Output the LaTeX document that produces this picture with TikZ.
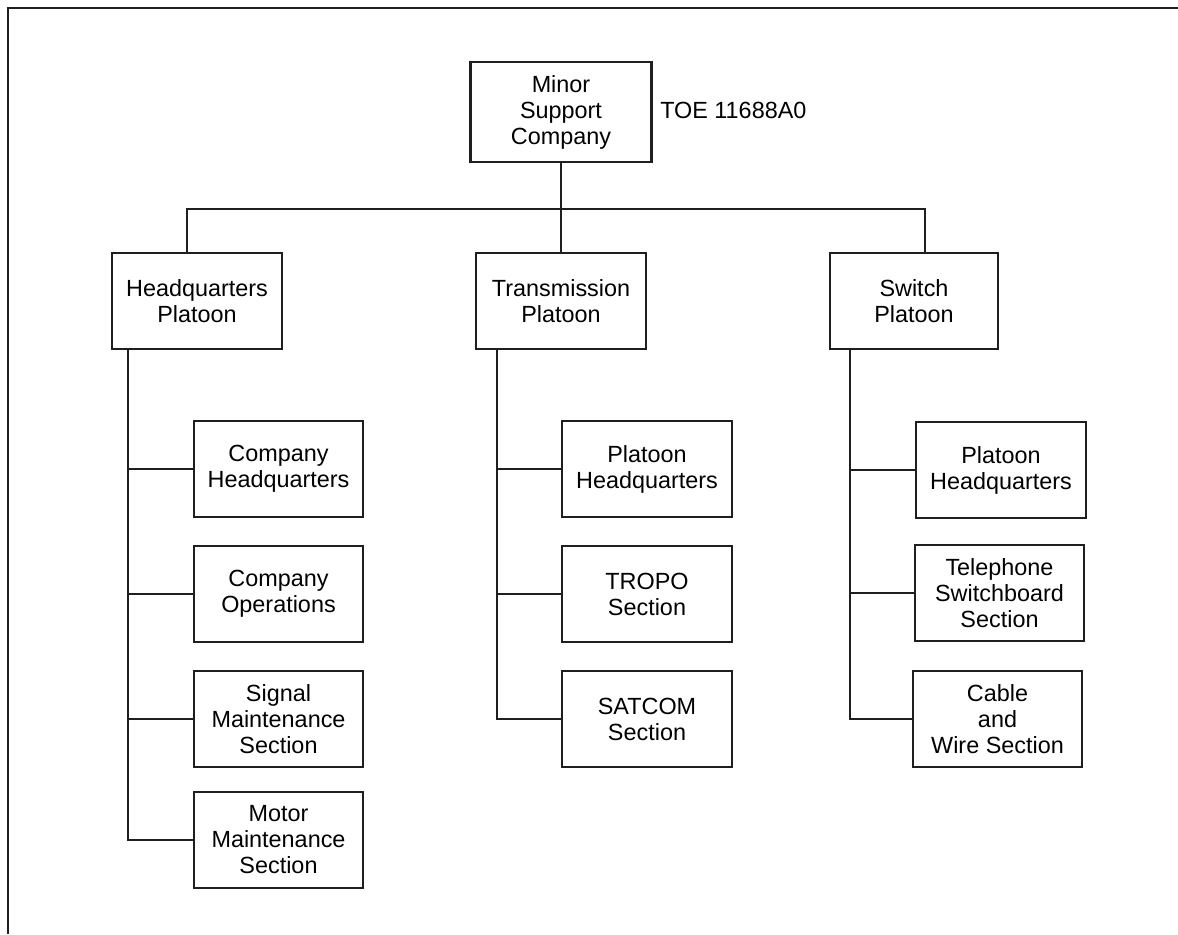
\documentclass[tikz,border=0pt]{standalone}
\usepackage{fontspec}
\setmainfont{Liberation Sans}
\usetikzlibrary{calc}
\begin{document}
\begin{tikzpicture}[x=0.5pt,y=-0.5pt,
  line width=1.25pt, draw=black!88,
  unit/.style={draw, rectangle, inner sep=0pt, align=center,
    minimum width=85pt, minimum height=48pt,
    font=\fontsize{11.7pt}{13pt}\selectfont},
  lbl/.style={inner sep=0pt, font=\fontsize{11.7pt}{13pt}\selectfont}]
\useasboundingbox (0,0) rectangle (1178,934);
% outer frame (top and left edges)
\draw (8,934) -- (8,8) -- (1178,8);

% company
\node[unit, minimum width=90.5pt, minimum height=50pt] (top) at (561,112) {Minor\\Support\\Company};
\node[lbl, anchor=west] (toe) at (659,110) {TOE 11688A0};

% platoons
\node[unit] (hq) at (197,301) {Headquarters\\Platoon};
\node[unit] (tr) at (561,301) {Transmission\\Platoon};
\node[unit, minimum width=84pt] (sw) at (914,301) {Switch\\Platoon};

% headquarters platoon sections
\node[unit, minimum width=84.5pt] (cohq) at (278.5,469) {Company\\Headquarters};
\node[unit, minimum width=84.5pt] (coops) at (278.5,594) {Company\\Operations};
\node[unit, minimum width=84.5pt] (sigm) at (278.5,719) {Signal\\Maintenance\\Section};
\node[unit, minimum width=84.5pt] (motm) at (278.5,840) {Motor\\Maintenance\\Section};

% transmission platoon sections
\node[unit] (tphq) at (647,469) {Platoon\\Headquarters};
\node[unit] (tropo) at (647,594) {TROPO\\Section};
\node[unit] (satcom) at (647,719) {SATCOM\\Section};

% switch platoon sections
\node[unit] (sphq) at (1001,470) {Platoon\\Headquarters};
\node[unit, minimum width=84.5pt] (tel) at (999.5,593) {Telephone\\Switchboard\\Section};
\node[unit, minimum width=84.5pt] (cab) at (997.5,719) {Cable\\and\\Wire Section};

% company to platoons
\coordinate (busl) at (187,209);
\coordinate (busr) at (925,209);
\draw (top.south) -- (tr.north);
\draw (busl |- hq.north) -- (busl) -- (busr) -- (busr |- sw.north);

% platoon trunks
\coordinate (hqt) at ($(hq.south west)+(17,0)$);
\coordinate (trt) at ($(tr.south west)+(22,0)$);
\coordinate (swt) at ($(sw.south west)+(21,0)$);

\draw (hqt) |- (motm.west);
\draw (hqt |- cohq.west) -- (cohq.west);
\draw (hqt |- coops.west) -- (coops.west);
\draw (hqt |- sigm.west) -- (sigm.west);

\draw (trt) |- (satcom.west);
\draw (trt |- tphq.west) -- (tphq.west);
\draw (trt |- tropo.west) -- (tropo.west);

\draw (swt) |- (cab.west);
\draw (swt |- sphq.west) -- (sphq.west);
\draw (swt |- tel.west) -- (tel.west);
\end{tikzpicture}
\end{document}
